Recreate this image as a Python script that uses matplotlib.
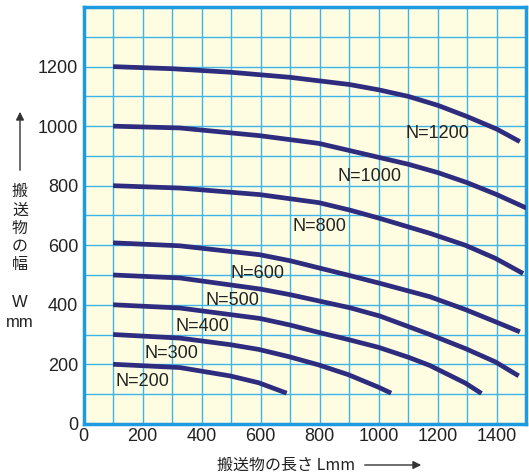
import matplotlib
matplotlib.use('Agg')
import matplotlib.pyplot as plt

plt.rcParams['font.family'] = ['Liberation Sans', 'Noto Sans CJK JP', 'DejaVu Sans']

# Curve data (L in mm, W in mm)
n_values = [1200, 1000, 800, 600, 500, 400, 300, 200]

L_1200 = [100, 300, 500, 700, 900, 1000, 1100, 1200, 1300, 1400, 1478]
W_1200 = [1200, 1193, 1181, 1164, 1140, 1122, 1100, 1070, 1032, 990, 948]

L_1000 = [100, 326, 597, 797, 936, 1100, 1200, 1300, 1400, 1500]
W_1000 = [1000, 994, 968, 942, 910, 872, 844, 810, 770, 725]

L_800 = [100, 326, 597, 797, 902, 1004, 1173, 1293, 1395, 1489]
W_800 = [800, 792, 770, 743, 718, 690, 640, 600, 556, 505]

L_600 = [100, 326, 597, 699, 902, 1004, 1173, 1293, 1395, 1478]
W_600 = [608, 598, 568, 548, 498, 472, 427, 384, 343, 309]

L_500 = [100, 326, 597, 699, 902, 1004, 1173, 1293, 1395, 1474]
W_500 = [500, 490, 453, 434, 390, 362, 300, 253, 208, 161]

L_400 = [100, 326, 597, 699, 797, 897, 999, 1102, 1173, 1293, 1348]
W_400 = [400, 389, 354, 332, 307, 283, 257, 223, 196, 137, 102]

L_300 = [100, 326, 496, 593, 694, 796, 897, 999, 1042]
W_300 = [300, 288, 266, 250, 226, 198, 165, 123, 103]

L_200 = [100, 326, 496, 593, 688]
W_200 = [200, 189, 161, 138, 103]

curves = [(L_1200, W_1200), (L_1000, W_1000), (L_800, W_800), (L_600, W_600),
          (L_500, W_500), (L_400, W_400), (L_300, W_300), (L_200, W_200)]

# label anchor points (data coords)
label_x = [1198, 968, 800, 588, 503, 404, 298, 198]
label_y = [976, 830, 662, 505, 413, 326, 237, 141]

x_ticks = [0, 200, 400, 600, 800, 1000, 1200, 1400]
y_ticks = [0, 200, 400, 600, 800, 1000, 1200]

fig = plt.figure(figsize=(5.29, 4.73), dpi=100)
ax = fig.add_axes([0.158, 0.104, 0.837, 0.881])
ax.set_facecolor('#FFFDE1')

for L, W in curves:
    ax.plot(L, W, color='#2E2C7E', lw=3.4, solid_capstyle='butt',
            solid_joinstyle='round', zorder=3)

for n, lx, ly in zip(n_values, label_x, label_y):
    ax.text(lx, ly, f'N={n}', fontsize=13, ha='center', va='center',
            color='#222222', zorder=4)

ax.set_xlim(0, 1500)
ax.set_ylim(0, 1400)
ax.set_xticks(range(0, 1501, 100), minor=True)
ax.set_yticks(range(0, 1401, 100), minor=True)
ax.set_xticks(x_ticks)
ax.set_yticks(y_ticks)
ax.grid(which='both', color='#3DB5E8', lw=1.0, zorder=1)
ax.set_axisbelow(True)
ax.tick_params(which='both', length=0, labelsize=13, colors='#222222')
ax.tick_params(axis='x', pad=3)
ax.tick_params(axis='y', pad=4)
for s in ax.spines.values():
    s.set_color('#1E9BE0')
    s.set_linewidth(2.5)

# y-axis label: arrow, vertical Japanese text, unit
fig.patches.append(matplotlib.patches.FancyArrowPatch(
    (20 / 529, 1 - 173 / 473), (20 / 529, 1 - 109 / 473),
    transform=fig.transFigure, arrowstyle='-|>', mutation_scale=12,
    color='#333333', lw=1))
fig.text(20 / 529, 1 - 228 / 473, '\n'.join('搬送物の幅'), fontsize=11.5,
         ha='center', va='center', linespacing=1.08, color='#222222',
         family=['Noto Sans CJK JP'])
fig.text(20 / 529, 1 - 302 / 473, 'W', fontsize=12, ha='center', va='center', color='#222222')
fig.text(20 / 529, 1 - 322 / 473, 'mm', fontsize=12, ha='center', va='center', color='#222222')

# x-axis label with arrow
fig.text(217 / 529, 1 - 465 / 473, '搬送物の長さ Lmm', fontsize=11.5,
         ha='left', va='center', color='#222222',
         family=['Noto Sans CJK JP', 'Liberation Sans'])
fig.patches.append(matplotlib.patches.FancyArrowPatch(
    (362 / 529, 1 - 465 / 473), (424 / 529, 1 - 465 / 473),
    transform=fig.transFigure, arrowstyle='-|>', mutation_scale=12,
    color='#333333', lw=1))

fig.savefig('out.png', dpi=100)
